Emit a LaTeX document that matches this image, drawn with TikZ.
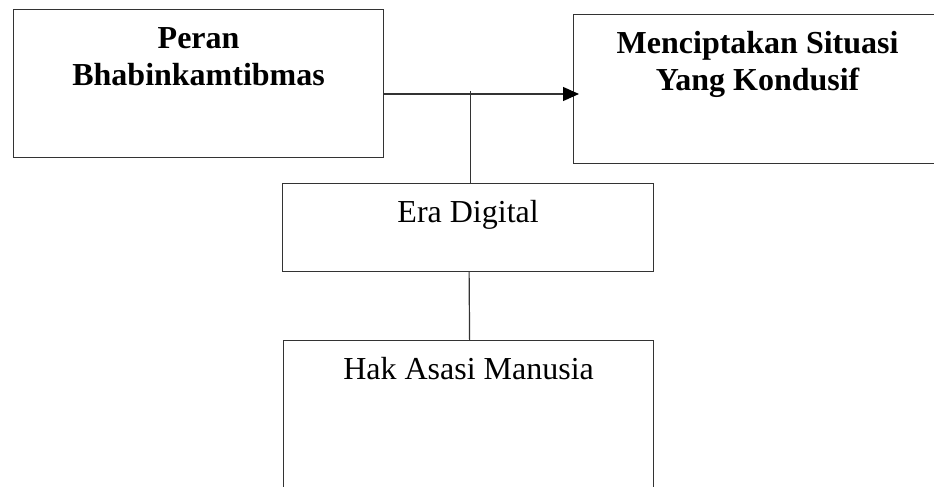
\documentclass[tikz,border=0pt]{standalone}
\usepackage{fontspec}
\setmainfont{Liberation Serif}
\usepackage{tikz}
\usetikzlibrary{arrows.meta}
\definecolor{garis}{HTML}{333333}
\newcommand{\huruf}{\fontsize{32}{37}\selectfont}

\begin{document}
\begin{tikzpicture}[x=1pt,y=1pt,
  kotak/.style={draw=garis,line width=1.2pt,rectangle,anchor=north west,inner sep=0pt},
  judul/.style={anchor=base,align=center,inner sep=0pt,font=\huruf\bfseries},
  isi/.style={anchor=base,inner sep=0pt,font=\huruf},
  hubung/.style={draw=garis,line width=1.2pt}]
\useasboundingbox (0,0) rectangle (934,487);
\node[kotak,minimum width=370,minimum height=148] (peran) at (13,478) {};
\node[kotak,minimum width=368,minimum height=149] (kondusif) at (573,473) {};
\node[kotak,minimum width=371,minimum height=88] (era) at (282,304) {};
\node[kotak,minimum width=370,minimum height=170] (ham) at (283,147) {};
% base = baseline of the last line
\node[judul] (peranteks) at ([yshift=-77]peran.north) {Peran\\Bhabinkamtibmas};
\node[judul] (kondusifteks) at ([yshift=-77]kondusif.north) {Menciptakan Situasi\\Yang Kondusif};
\node[isi] (erateks) at ([yshift=-40]era.north) {Era Digital};
\node[isi] (hamteks) at ([yshift=-40]ham.north) {Hak Asasi Manusia};
\coordinate (jalur) at (0,393); \coordinate (puncak) at (0,396);
\draw[hubung,-{Triangle[length=16pt,width=14pt,color=black]},shorten >=-6pt] (peran.east |- jalur) -- (kondusif.west |- jalur);
\draw[hubung] ([xshift=2]era.north) -- ([xshift=2]era.north |- puncak);
\draw[hubung] ([xshift=1]era.south) -- ([xshift=1]ham.north);
\end{tikzpicture}
\end{document}
